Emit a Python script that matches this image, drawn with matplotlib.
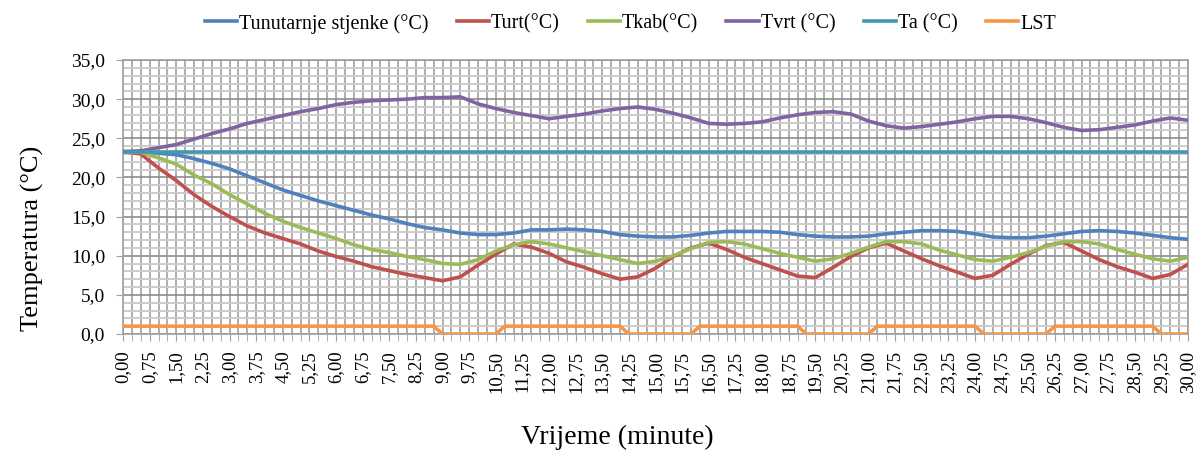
import numpy as np
import matplotlib
matplotlib.use('Agg')
import matplotlib.pyplot as plt
from matplotlib.ticker import MultipleLocator, FuncFormatter

# measurements every 0.5 min
time = np.arange(0, 30.01, 0.5)

t_stjenka = [23.3, 23.2, 23.1, 22.9, 22.4, 21.8, 21.1, 20.2, 19.3, 18.4,
             17.7, 17.0, 16.4, 15.8, 15.2, 14.7, 14.1, 13.6, 13.3, 12.9,
             12.7, 12.7, 12.9, 13.3, 13.3, 13.4, 13.3, 13.1, 12.7, 12.5,
             12.4, 12.4, 12.6, 12.9, 13.1, 13.1, 13.1, 13.0, 12.7, 12.5,
             12.4, 12.4, 12.5, 12.8, 13.0, 13.2, 13.2, 13.1, 12.8, 12.4,
             12.3, 12.3, 12.5, 12.8, 13.1, 13.2, 13.1, 12.9, 12.6, 12.3,
             12.1]
t_urt = [23.3, 23.0, 21.2, 19.6, 17.8, 16.3, 15.0, 13.8, 12.9, 12.2,
         11.5, 10.6, 9.9, 9.3, 8.6, 8.1, 7.6, 7.2, 6.8, 7.3,
         8.8, 10.2, 11.5, 11.1, 10.3, 9.2, 8.5, 7.7, 7.0, 7.3,
         8.4, 9.9, 11.0, 11.6, 10.8, 9.8, 9.0, 8.2, 7.4, 7.2,
         8.5, 9.9, 11.0, 11.6, 10.6, 9.6, 8.7, 7.9, 7.1, 7.5,
         8.9, 10.2, 11.3, 11.7, 10.6, 9.5, 8.6, 7.9, 7.1, 7.6,
         8.9]
t_kab = [23.3, 23.2, 22.5, 21.7, 20.3, 19.2, 17.8, 16.6, 15.4, 14.4,
         13.6, 12.9, 12.2, 11.4, 10.8, 10.4, 9.9, 9.5, 9.0, 8.9,
         9.5, 10.6, 11.4, 11.8, 11.5, 11.0, 10.5, 10.0, 9.5, 9.0,
         9.3, 10.0, 10.9, 11.7, 11.8, 11.5, 10.9, 10.3, 9.8, 9.3,
         9.6, 10.3, 11.1, 11.8, 11.8, 11.5, 10.7, 10.1, 9.5, 9.3,
         9.8, 10.4, 11.2, 11.8, 11.8, 11.5, 10.8, 10.2, 9.6, 9.3,
         9.8]
t_vrt = [23.3, 23.4, 23.8, 24.2, 24.9, 25.6, 26.2, 26.9, 27.4, 27.9,
         28.4, 28.8, 29.3, 29.6, 29.8, 29.9, 30.0, 30.2, 30.2, 30.3,
         29.4, 28.8, 28.3, 27.9, 27.5, 27.8, 28.1, 28.5, 28.8, 29.0,
         28.7, 28.2, 27.6, 26.9, 26.8, 26.9, 27.1, 27.6, 28.0, 28.3,
         28.4, 28.1, 27.2, 26.6, 26.3, 26.5, 26.8, 27.1, 27.5, 27.8,
         27.8, 27.5, 27.0, 26.4, 26.0, 26.1, 26.4, 26.7, 27.2, 27.6,
         27.3]
t_a = 23.3

# LST switching points (min) and state
lst_time = [0, 8.75, 9.0, 10.5, 10.75, 14.0, 14.25, 16.0, 16.25, 19.0,
            19.25, 21.0, 21.25, 24.0, 24.25, 26.0, 26.25, 29.0, 29.25, 30.0]
lst_state = [1, 1, 0, 0, 1, 1, 0, 0, 1, 1,
             0, 0, 1, 1, 0, 0, 1, 1, 0, 0]

labels = ['Tunutarnje stjenke (°C)', 'Turt(°C)', 'Tkab(°C)', 'Tvrt (°C)',
          'Ta (°C)', 'LST']
colors = ['#4F81BD', '#C0504D', '#9BBB59', '#8064A2', '#4198B0', '#F79646']

plt.rcParams['font.family'] = ['Liberation Serif', 'DejaVu Serif']

fig = plt.figure(figsize=(11.98, 4.53), dpi=100)
ax = fig.add_axes([0.1027, 0.2627, 0.8890, 0.6048])

lw = 2.6
series = [t_stjenka, t_urt, t_kab, t_vrt]
for vals, lab, col in zip(series, labels[:4], colors[:4]):
    ax.plot(time, vals, color=col, lw=lw, label=lab, zorder=3)
ax.plot([0, 30], [t_a, t_a], color=colors[4], lw=lw, label=labels[4], zorder=3)
ax.plot(lst_time, lst_state, color=colors[5], lw=lw, label=labels[5], zorder=3)

ax.set_xlim(0, 30)
ax.set_ylim(0, 35)
ax.xaxis.set_major_locator(MultipleLocator(0.75))
ax.xaxis.set_minor_locator(MultipleLocator(0.25))
ax.yaxis.set_major_locator(MultipleLocator(5))
ax.yaxis.set_minor_locator(MultipleLocator(1))
ax.xaxis.set_major_formatter(FuncFormatter(lambda v, p: f'{v:.2f}'.replace('.', ',')))
ax.yaxis.set_major_formatter(FuncFormatter(lambda v, p: f'{v:.1f}'.replace('.', ',')))

ax.grid(which='minor', axis='y', color='#cccccc', lw=1.4, zorder=0)
ax.grid(which='major', axis='y', color='#8c8c8c', lw=1.2, zorder=1)
ax.grid(which='both', axis='x', color='#a0a0a0', lw=1.2, zorder=1)
ax.set_axisbelow(True)

for s in ax.spines.values():
    s.set_color('#a0a0a0')
    s.set_linewidth(1.2)

ax.tick_params(axis='x', which='both', length=5, color='#a0a0a0',
               labelrotation=90, labelsize=13.5, pad=7)
ax.tick_params(axis='y', which='major', length=5, color='#a0a0a0',
               labelsize=14, pad=8)
ax.tick_params(axis='y', which='minor', length=0)

ax.set_xlabel('Vrijeme (minute)', fontsize=20)
ax.xaxis.set_label_coords(0.464, -0.33)
ax.set_ylabel('Temperatura (°C)', fontsize=19)
ax.yaxis.set_label_coords(-0.074, 0.35)

fig.legend(loc='center', bbox_to_anchor=(0.526, 0.948), ncol=6, frameon=False,
           fontsize=14.5, handlelength=1.6, handletextpad=0.1, columnspacing=1.4)

fig.savefig('out.png', dpi=100)
